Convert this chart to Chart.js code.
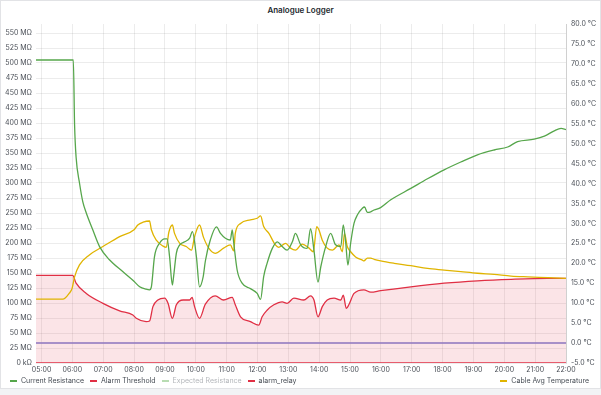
<!DOCTYPE html>
<html><head><meta charset="utf-8">
<script src="https://cdn.jsdelivr.net/npm/chart.js@4.4.1/dist/chart.umd.min.js"></script>
<style>
html,body{margin:0;padding:0;background:#f2f3f5;}
body{width:601px;height:395px;overflow:hidden;position:relative;font-family:Inter,'Open Sans',sans-serif;}
#panel{position:absolute;left:0;top:0;width:599px;height:387px;background:#fff;border:1px solid #e2e3e6;}
#title{position:absolute;left:0;top:5px;width:601px;text-align:center;font-size:8px;font-weight:600;color:#24292e;line-height:10px;}
#c{position:absolute;left:0;top:0;}
.legend{position:absolute;top:376px;display:flex;gap:6px;font-size:7px;line-height:10px;color:#464c54;white-space:nowrap;}
.legend .item{display:flex;align-items:center;}
.legend .mk{display:inline-block;width:7px;height:2px;margin-right:4px;}
#legL{left:10px;}
#legR{right:12px;}
</style>
</head><body>
<div id="panel"></div>
<div id="title">Analogue Logger</div>
<canvas id="c" width="601" height="378"></canvas>
<div class="legend" id="legL"></div>
<div class="legend" id="legR"></div>
<script>
// ---- data (hours of day, values) ----
const resTimes  = [4.82,6.03,6.07,6.12,6.23,6.34,6.45,6.66,6.88,7.20,7.64,7.96,8.18,8.39,8.50,8.56,8.66,8.83,8.99,9.07,9.15,9.24,9.28,9.37,9.48,9.64,9.80,9.89,10.02,10.12,10.24,10.31,10.47,10.67,10.80,10.96,11.12,11.18,11.23,11.34,11.50,11.77,11.99,12.10,12.20,12.31,12.48,12.64,12.80,12.96,13.13,13.23,13.40,13.61,13.72,13.83,13.96,14.05,14.21,14.37,14.53,14.70,14.78,14.86,14.93,15.02,15.13,15.24,15.40,15.47,15.56,15.67,15.78,15.99,16.32,16.97,17.51,18.05,18.59,19.13,19.67,20.11,20.43,20.97,21.30,21.62,21.84,22.00];
const resValues = [505,505,398,343,300,268,250,222,194,172,152,138,127,123,122,127,177,200,207,207,177,130,144,183,197,202,208,219,177,127,144,170,205,227,216,208,205,222,200,155,133,124,116,106,144,166,191,202,194,188,202,216,197,191,224,188,135,160,194,216,197,194,230,200,163,200,233,247,258,260,251,252,255,259,272,291,307,322,335,347,355,360,369,373,378,387,391,389];

const thrTimes  = [4.82,6.01,6.12,6.45,6.99,7.53,7.96,8.07,8.39,8.50,8.61,8.77,8.99,9.10,9.24,9.37,9.59,9.80,9.88,9.96,10.12,10.31,10.63,10.90,11.18,11.28,11.45,11.77,12.04,12.15,12.31,12.53,12.80,12.96,13.18,13.50,13.72,13.83,13.96,14.10,14.26,14.48,14.70,14.78,14.88,14.96,15.13,15.45,15.67,15.99,16.97,18.05,19.13,20.22,21.41,22.00];
const thrValues = [146,146,133,116,99.5,87,80,74.5,69,70,94,105,108,99.5,74.5,97,105,105,109.5,94,74.5,98,112,105,109.5,97,77,69,63,77,88,97,102,99.5,108,105,112,105,77,94,105,108,105,113,91,97,116,122,118,120.5,127,133,137,139.5,141,141];

const relayTimes  = [4.82,22.00];
const relayValues = [0,0];

const tempTimes  = [4.82,5.69,5.90,5.99,6.07,6.23,6.55,6.99,7.53,8.01,8.12,8.29,8.50,8.56,8.72,8.94,9.04,9.13,9.24,9.31,9.48,9.69,9.86,9.96,10.12,10.25,10.42,10.63,10.90,11.12,11.23,11.28,11.45,11.77,11.99,12.10,12.20,12.37,12.58,12.69,12.91,13.07,13.23,13.45,13.67,13.81,13.92,13.99,14.10,14.26,14.43,14.64,14.75,14.82,14.91,15.02,15.18,15.40,15.45,15.56,15.67,15.78,15.99,16.43,16.97,17.51,18.05,18.59,19.13,19.67,20.22,20.76,21.41,22.00];
const tempValues = [11.0,11.0,12.5,13.7,16.6,19.6,22.1,24.2,26.7,28.5,29.6,30.3,30.6,28.4,25.8,24.3,24.0,27.9,29.6,27.5,25.0,24.2,23.3,26.7,29.6,26.5,23.8,22.5,23.8,24.6,23.1,27.5,30.0,30.9,31.3,31.9,29.2,27.5,24.6,24.0,25.0,23.8,23.3,24.8,23.8,22.9,29.2,28.4,25.8,23.8,23.3,24.6,22.9,27.5,24.2,22.9,21.6,20.8,20.6,21.3,21.3,21.0,20.6,20.0,19.4,18.7,18.3,17.9,17.5,17.2,16.8,16.6,16.4,16.2];

const refTimes  = [4.82,22.00];
const refValues = [0,0];

const xTicks     = [5,6,7,8,9,10,11,12,13,14,15,16,17,18,19,20,21,22];
const leftTicks  = [0,25,50,75,100,125,150,175,200,225,250,275,300,325,350,375,400,425,450,475,500,525,550];
const rightTicks = [-5,0,5,10,15,20,25,30,35,40,45,50,55,60,65,70,75,80];

const seriesNames = ['Current Resistance','Alarm Threshold','Expected Resistance','alarm_relay','Cable Avg Temperature'];

// ---- build ----
const pts = (t,v) => t.map((x,i)=>({x:x,y:v[i]}));
const GREEN='#56a64b', RED='#e02f44', YELLOW='#e0b400', PURPLE='#7f7fd0';
const tickColor='#4a4f57';
const gridColor='rgba(0,0,0,0.075)';
const fnt={family:'Inter',size:7};

new Chart(document.getElementById('c'),{
  type:'line',
  data:{datasets:[
    {label:seriesNames[4],data:pts(tempTimes,tempValues),yAxisID:'y1',borderColor:YELLOW,borderWidth:1.3,pointRadius:0,cubicInterpolationMode:'monotone',fill:false,order:3},
    {label:seriesNames[0],data:pts(resTimes,resValues),yAxisID:'y',borderColor:GREEN,borderWidth:1.3,pointRadius:0,cubicInterpolationMode:'monotone',fill:false,order:2},
    {label:seriesNames[1],data:pts(thrTimes,thrValues),yAxisID:'y',borderColor:RED,backgroundColor:'rgba(224,47,68,0.13)',borderWidth:1.3,pointRadius:0,cubicInterpolationMode:'monotone',fill:'origin',order:4},
    {label:seriesNames[3],data:pts(relayTimes,relayValues),yAxisID:'y',borderColor:RED,borderWidth:1.5,pointRadius:0,fill:false,order:1},
    {label:'ref',data:pts(refTimes,refValues),yAxisID:'y1',borderColor:PURPLE,borderWidth:1.4,pointRadius:0,fill:false,order:5}
  ]},
  options:{
    responsive:false,animation:false,devicePixelRatio:1,
    layout:{padding:{top:24,left:0,right:0,bottom:0}},
    plugins:{legend:{display:false},tooltip:{enabled:false},title:{display:false}},
    scales:{
      x:{type:'linear',min:4.82,max:22,
        afterBuildTicks:s=>{s.ticks=xTicks.map(v=>({value:v}));},
        afterFit:s=>{s.height=15;},
        ticks:{callback:v=>String(v).padStart(2,'0')+':00',font:fnt,color:tickColor,padding:3,maxRotation:0,autoSkip:false},
        grid:{color:gridColor,drawTicks:false},border:{display:false}},
      y:{position:'left',min:0,max:565,
        afterBuildTicks:s=>{s.ticks=leftTicks.map(v=>({value:v}));},
        afterFit:s=>{s.width=36;},
        ticks:{callback:v=>v===0?'0 kΩ':v+' MΩ',font:fnt,color:tickColor,padding:4,autoSkip:false},
        grid:{color:gridColor,drawTicks:false},border:{display:false}},
      y1:{position:'right',min:-5,max:80,
        afterBuildTicks:s=>{s.ticks=rightTicks.map(v=>({value:v}));},
        afterFit:s=>{s.width=35;},
        ticks:{callback:v=>v.toFixed(1)+' °C',font:fnt,color:tickColor,padding:5,autoSkip:false},
        grid:{display:false,drawTicks:false},border:{display:true,color:'rgba(0,0,0,0.12)'}}
    }
  }
});

// ---- legend (HTML, real text) ----
const legItems=[
  {name:seriesNames[0],color:GREEN,side:'L'},
  {name:seriesNames[1],color:RED,side:'L'},
  {name:seriesNames[2],color:'#b8dcb2',side:'L',muted:true},
  {name:seriesNames[3],color:RED,side:'L'},
  {name:seriesNames[4],color:YELLOW,side:'R'}
];
legItems.forEach(it=>{
  const d=document.createElement('div');d.className='item';
  const m=document.createElement('span');m.className='mk';m.style.background=it.color;
  const t=document.createElement('span');t.textContent=it.name;if(it.muted)t.style.color='#b4b7bb';
  d.appendChild(m);d.appendChild(t);
  document.getElementById(it.side==='L'?'legL':'legR').appendChild(d);
});
</script>
</body></html>
